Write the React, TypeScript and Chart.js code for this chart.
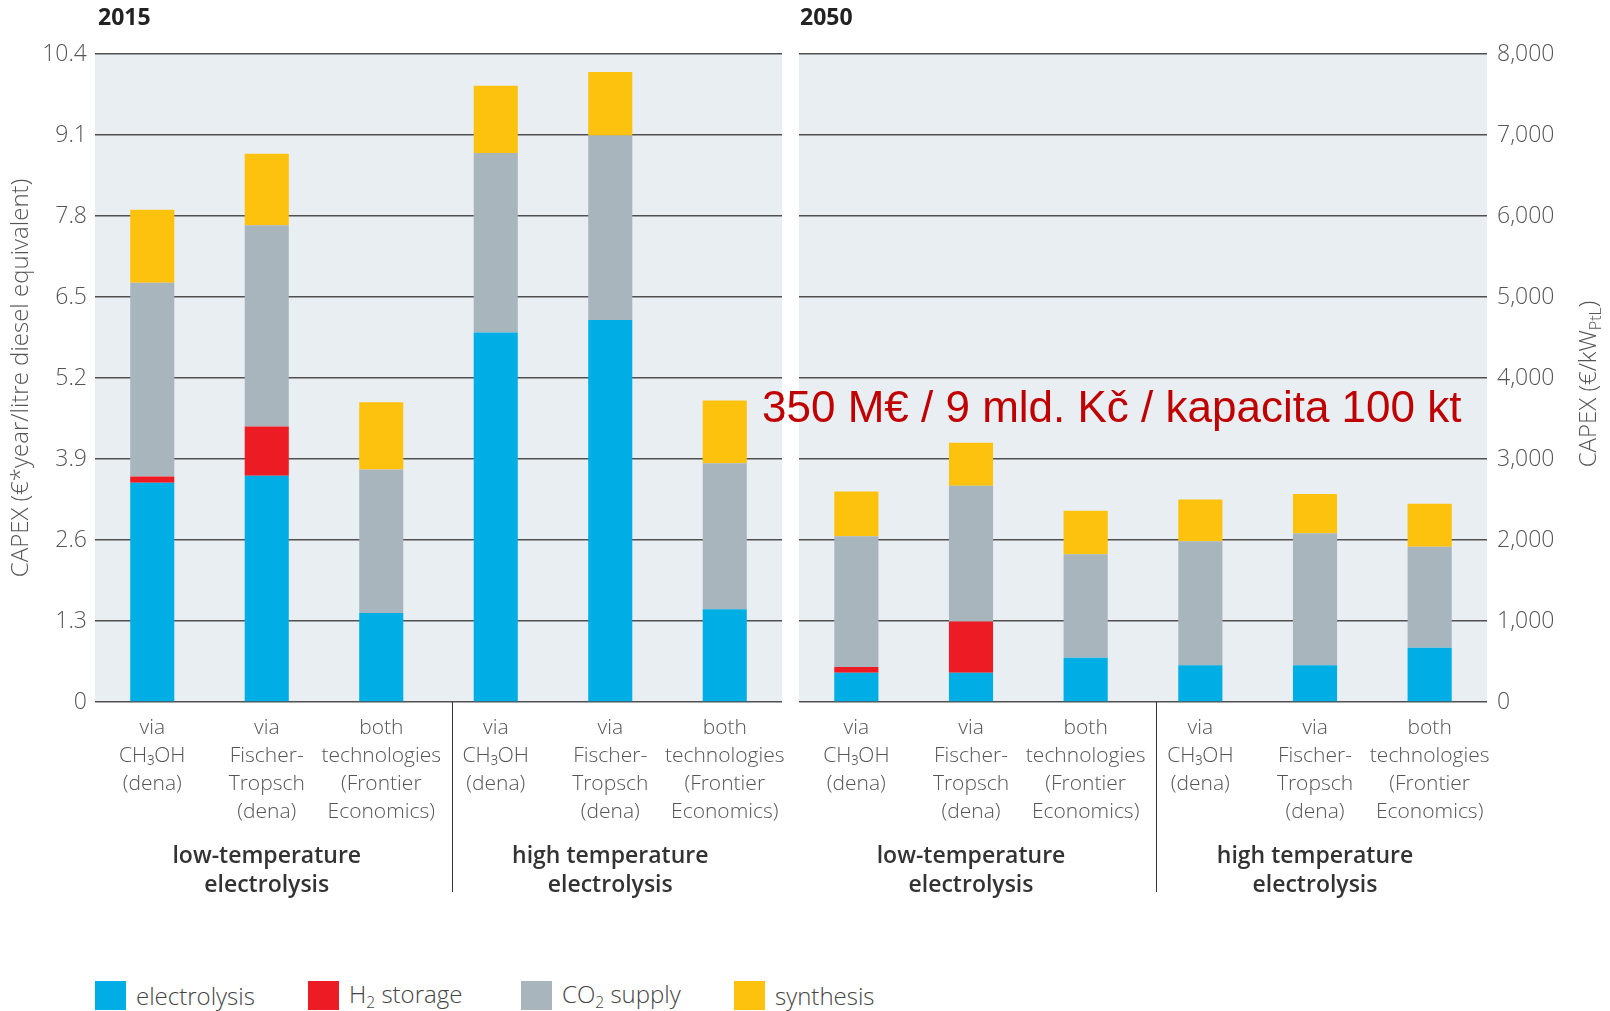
import React, { useEffect, useRef } from 'react';
import { Chart, registerables } from 'chart.js';

Chart.register(...registerables);

// ---------- DATA ----------
const seriesNames = ['electrolysis', 'H₂ storage', 'CO₂ supply', 'synthesis'];
const seriesColors = ['#00AEE6', '#ED1C24', '#A9B5BD', '#FDC20E'];

const categories = [
  ['via', 'CH₃OH', '(dena)'],
  ['via', 'Fischer-', 'Tropsch', '(dena)'],
  ['both', 'technologies', '(Frontier', 'Economics)'],
  ['via', 'CH₃OH', '(dena)'],
  ['via', 'Fischer-', 'Tropsch', '(dena)'],
  ['both', 'technologies', '(Frontier', 'Economics)'],
];
const groupLabels = [
  ['low-temperature', 'electrolysis'],
  ['high temperature', 'electrolysis'],
];

// values in €*year / litre diesel equivalent
const electrolysis2015 = [3.52, 3.63, 1.43, 5.93, 6.13, 1.49];
const h2Storage2015 = [0.10, 0.79, 0, 0, 0, 0];
const co2Supply2015 = [3.11, 3.23, 2.30, 2.88, 2.96, 2.34];
const synthesis2015 = [1.17, 1.15, 1.08, 1.08, 1.02, 1.01];

const electrolysis2050 = [0.47, 0.47, 0.71, 0.59, 0.59, 0.87];
const h2Storage2050 = [0.09, 0.82, 0, 0, 0, 0];
const co2Supply2050 = [2.10, 2.18, 1.66, 1.99, 2.12, 1.62];
const synthesis2050 = [0.72, 0.69, 0.70, 0.67, 0.63, 0.69];

const leftTickLabels = ['0', '1.3', '2.6', '3.9', '5.2', '6.5', '7.8', '9.1', '10.4'];
const rightTickLabels = ['0', '1,000', '2,000', '3,000', '4,000', '5,000', '6,000', '7,000', '8,000'];
const axisMax = 10.4;
const axisStep = 1.3;

const leftAxisTitle = 'CAPEX (€*year/litre diesel equivalent)';
const rightAxisTitleMain = 'CAPEX (€/kW';
const rightAxisTitleSub = 'PtL';
const annotationText = '350 M€ / 9 mld. Kč / kapacita 100 kt';

// ---------- STYLE ----------
const BG = '#E9EEF2';
const GRID = '#505050';
const TEXT = '#555';
const FONT = '"Open Sans", "Liberation Sans", sans-serif';

function makePlugin(opts: { title: string; titleDx: number; rightTitleX?: number }) {
  return {
    id: 'panelDecor',
    beforeDraw(chart: any) {
      const { ctx, chartArea: a } = chart;
      ctx.save();
      ctx.fillStyle = BG;
      ctx.fillRect(a.left, a.top, a.right - a.left, a.bottom - a.top);
      ctx.restore();
    },
    afterDraw(chart: any) {
      const { ctx, chartArea: a } = chart;
      const x = chart.scales.x;
      ctx.save();
      // panel title
      ctx.font = `700 23px ${FONT}`;
      ctx.fillStyle = '#222';
      ctx.textAlign = 'left';
      ctx.textBaseline = 'middle';
      ctx.fillText(opts.title, a.left + opts.titleDx, 18);
      // group separator
      const sx = Math.round((x.getPixelForValue(2) + x.getPixelForValue(3)) / 2 + 13) + 0.5;
      ctx.strokeStyle = '#333';
      ctx.lineWidth = 1;
      ctx.beginPath();
      ctx.moveTo(sx, a.bottom);
      ctx.lineTo(sx, 892);
      ctx.stroke();
      // group labels
      ctx.font = `600 23px ${FONT}`;
      ctx.fillStyle = '#333';
      ctx.textAlign = 'center';
      groupLabels.forEach((lines, g) => {
        const cx = x.getPixelForValue(g * 3 + 1);
        lines.forEach((t, i) => ctx.fillText(t, cx, 856 + i * 29));
      });
      // right axis title (reads bottom-to-top, with subscript)
      if (opts.rightTitleX !== undefined) {
        ctx.translate(opts.rightTitleX, 384);
        ctx.rotate(-Math.PI / 2);
        ctx.fillStyle = TEXT;
        ctx.textAlign = 'left';
        const big = `300 24px ${FONT}`;
        const small = `300 16px ${FONT}`;
        ctx.font = big;
        const w1 = ctx.measureText(rightAxisTitleMain).width;
        const w3 = ctx.measureText(')').width;
        ctx.font = small;
        const w2 = ctx.measureText(rightAxisTitleSub).width;
        let px = -(w1 + w2 + w3) / 2;
        ctx.font = big;
        ctx.fillText(rightAxisTitleMain, px, 0);
        px += w1;
        ctx.font = small;
        ctx.fillText(rightAxisTitleSub, px, 7);
        px += w2;
        ctx.font = big;
        ctx.fillText(')', px, 0);
      }
      ctx.restore();
    },
  };
}

function buildDatasets(values: number[][]) {
  return values.map((data, i) => ({
    label: seriesNames[i],
    data,
    backgroundColor: seriesColors[i],
    borderWidth: 0,
    barPercentage: 0.385,
    categoryPercentage: 1,
  }));
}

function Panel(props: {
  values: number[][];
  side: 'left' | 'right';
  title: string;
  left: number;
  width: number;
}) {
  const ref = useRef<HTMLCanvasElement | null>(null);
  useEffect(() => {
    if (!ref.current) return;
    const isLeft = props.side === 'left';
    const chart = new Chart(ref.current, {
      type: 'bar',
      data: { labels: categories as any, datasets: buildDatasets(props.values) as any },
      options: {
        responsive: false,
        animation: false,
        devicePixelRatio: 1,
        layout: { padding: isLeft ? { top: 54, right: 8, left: 0, bottom: 0 } : { top: 54, right: 0, left: 9, bottom: 0 } },
        plugins: { legend: { display: false }, tooltip: { enabled: false }, title: { display: false } },
        scales: {
          x: {
            stacked: true,
            grid: { display: false },
            border: { display: false },
            ticks: {
              padding: 4,
              color: TEXT,
              maxRotation: 0,
              autoSkip: false,
              font: { family: FONT, size: 21, weight: '300' as any, lineHeight: '28px' },
            },
            afterFit: (s: any) => { s.height = 258; },
          },
          y: {
            stacked: true,
            position: isLeft ? 'left' : 'right',
            min: 0,
            max: axisMax,
            ticks: {
              stepSize: axisStep,
              padding: isLeft ? 8 : 10,
              color: TEXT,
              font: { family: FONT, size: 23, weight: '300' as any },
              callback: (_v: any, i: number) => (isLeft ? leftTickLabels[i] : rightTickLabels[i]),
            },
            grid: { color: GRID, lineWidth: 1.5, drawTicks: false },
            border: { display: false },
            title: {
              display: isLeft,
              text: leftAxisTitle,
              color: TEXT,
              font: { family: FONT, size: 24, weight: '300' as any },
              padding: { top: 7, bottom: 0 },
            },
            afterFit: (s: any) => { s.width = isLeft ? 95 : 123; },
          },
        },
      } as any,
      plugins: [makePlugin({ title: props.title, titleDx: isLeft ? 3 : 1, rightTitleX: isLeft ? undefined : 799 })],
    });
    return () => chart.destroy();
  }, []);
  return (
    <canvas
      ref={ref}
      width={props.width}
      height={960}
      style={{ position: 'absolute', left: props.left, top: 0, width: props.width, height: 960, display: 'block' }}
    />
  );
}

function Legend() {
  const lefts = [95, 308, 521, 734];
  const sub = { fontSize: '0.65em', position: 'relative' as const, top: '0.35em' };
  const labels = [
    <span>electrolysis</span>,
    <span>H<span style={sub}>2</span> storage</span>,
    <span>CO<span style={sub}>2</span> supply</span>,
    <span>synthesis</span>,
  ];
  return (
    <>
      {seriesNames.map((n, i) => (
        <div key={n} style={{ position: 'absolute', left: lefts[i], top: 981, height: 29, display: 'flex', alignItems: 'center', whiteSpace: 'nowrap' }}>
          <div style={{ width: 31, height: 29, background: seriesColors[i], marginRight: 10 }} />
          <div style={{ fontFamily: FONT, fontWeight: 300, fontSize: 24, color: '#444', lineHeight: '29px' }}>{labels[i]}</div>
        </div>
      ))}
    </>
  );
}

export default function App() {
  return (
    <div style={{ position: 'fixed', left: 0, top: 0, width: 1610, height: 1011, background: '#fff', overflow: 'hidden' }}>
      <Panel values={[electrolysis2015, h2Storage2015, co2Supply2015, synthesis2015]} side="left" title="2015" left={0} width={790} />
      <Panel values={[electrolysis2050, h2Storage2050, co2Supply2050, synthesis2050]} side="right" title="2050" left={790} width={820} />
      <div
        style={{
          position: 'absolute',
          left: 762,
          top: 385,
          fontFamily: '"Liberation Sans", Arial, sans-serif',
          fontSize: 44,
          lineHeight: '44px',
          color: '#C00000',
          whiteSpace: 'nowrap',
        }}
      >
        {annotationText}
      </div>
      <Legend />
    </div>
  );
}
